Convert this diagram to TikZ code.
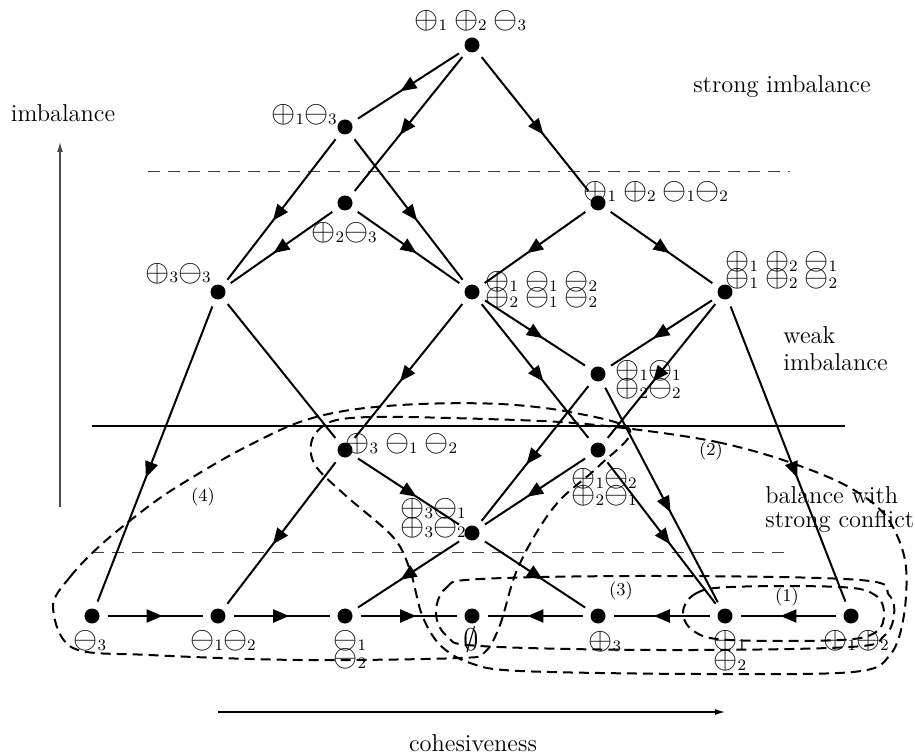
\RequirePackage{fix-cm}
\documentclass[tikz,border=0pt]{standalone}
\usetikzlibrary{arrows.meta,decorations.markings}
\newcommand\opl[1]{$\oplus$\lower1pt\hbox{\fontsize{8}{9}\selectfont #1}}
\newcommand\omi[1]{$\ominus$\lower1pt\hbox{\fontsize{8}{9}\selectfont #1}}
\newcommand\gp{\hspace{3.5pt}}
\begin{document}
\begin{tikzpicture}[x=0.5pt,y=-0.5pt,
  dot/.style={circle,fill=black,inner sep=0pt,minimum size=7.5pt,outer sep=4pt},
  sym/.style={font=\fontsize{15.5}{18}\selectfont,inner sep=0pt,anchor=base west},
  txt/.style={font=\fontsize{12.2}{14.6}\selectfont,inner sep=0pt},
  num/.style={font=\fontsize{9}{11}\selectfont,inner sep=0pt},
  edge/.style={line width=1pt,postaction={decorate},
    decoration={markings,mark=at position 0.58 with {\arrow{Triangle[length=8pt,width=6.5pt]}}}},
  plainedge/.style={line width=1pt},
  level/.style={line width=0.5pt,black!75,dash pattern=on 6pt off 4pt},
  region/.style={line width=1pt,dash pattern=on 5pt off 3pt},
  axisarrow/.style={line width=0.6pt,-{Latex[length=5pt,width=3pt]}}
]
\useasboundingbox (0,0) rectangle (915,754);

% level lines
\draw[level] (148,172) -- (790,172);
\draw[line width=0.6pt] (92,426) -- (845,426);
\draw[level] (92,552) -- (790,552);

% axes
\coordinate (ya) at (60,507); \coordinate (yb) at (60,142);
\draw[axisarrow,black!70] (ya) -- (yb);
\coordinate (xa) at (218,712); \coordinate (xb) at (725,712);
\draw[axisarrow] (xa) -- (xb);
\node[txt,anchor=base] (limb) at (63,122) {imbalance};
\node[txt,anchor=base] (lcoh) at (473,751) {cohesiveness};
\node[txt,anchor=base] (lstr) at (782,93) {strong imbalance};
\node[txt,anchor=base west] (lweak1) at (783,343) {weak};
\node[txt,anchor=base west] (lweak2) at (783,370) {imbalance};
\node[txt,anchor=base west] (lbal1) at (765,503) {balance with};
\node[txt,anchor=base west] (lbal2) at (765,527) {strong conflict};

% nodes
\node[dot] (T) at (472,45) {};
\node[dot] (A) at (345,127) {};
\node[dot] (B) at (345,203) {};
\node[dot] (C) at (598,203) {};
\node[dot] (D) at (218,292) {};
\node[dot] (E) at (472,292) {};
\node[dot] (F) at (725,292) {};
\node[dot] (G) at (598,374) {};
\node[dot] (H) at (345,450) {};
\node[dot] (I) at (598,450) {};
\node[dot] (J) at (472,533) {};
\node[dot] (K1) at (92,616) {};
\node[dot] (K2) at (218,616) {};
\node[dot] (K3) at (345,616) {};
\node[dot] (K4) at (472,616) {};
\node[dot] (K5) at (598,616) {};
\node[dot] (K6) at (725,616) {};
\node[dot] (K7) at (851,616) {};

% edges
\draw[edge] (T) -- (A);
\draw[edge] (T) -- (B);
\draw[edge] (T) -- (C);
\draw[edge] (A) -- (D);
\draw[edge] (A) -- (E);
\draw[edge] (B) -- (D);
\draw[edge] (B) -- (E);
\draw[edge] (C) -- (E);
\draw[edge] (C) -- (F);
\draw[edge] (D) -- (K1);
\draw[plainedge] (D) -- (H);
\draw[edge] (E) -- (H);
\draw[edge] (E) -- (G);
\draw[edge] (E) -- (I);
\draw[edge] (F) -- (G);
\draw[edge] (F) -- (I);
\draw[edge] (F) -- (K7);
\draw[edge] (G) -- (J);
\draw[edge] (G) -- (K6);
\draw[edge] (H) -- (J);
\draw[edge] (H) -- (K2);
\draw[edge] (I) -- (J);
\draw[edge] (I) -- (K6);
\draw[edge] (J) -- (K3);
\draw[edge] (J) -- (K5);
\draw[edge] (K1) -- (K2);
\draw[edge] (K2) -- (K3);
\draw[edge] (K3) -- (K4);
\draw[edge] (K5) -- (K4);
\draw[edge] (K6) -- (K5);
\draw[edge] (K7) -- (K6);

% dashed regions
\draw[region] plot[smooth cycle,tension=0.6] coordinates {(683,613) (695,594) (730,587) (840,587) (875,595) (884,613) (876,632) (840,640) (730,640) (695,632)};
\draw[region] plot[smooth cycle,tension=0.6] coordinates {(436,613) (446,588) (480,579) (660,576) (860,580) (889,595) (894,615) (884,636) (850,647) (660,650) (480,646) (447,636)};
\draw[region] plot[smooth cycle,tension=0.55] coordinates {(640,430) (717,442) (783,460) (845,485) (885,515) (905,560) (904,615) (890,655) (853,672) (700,674) (520,671) (470,663) (440,645) (422,615) (410,570) (393,537) (345,495) (315,465) (312,440) (330,422) (370,417) (450,418) (560,422)};
\draw[region] plot[smooth cycle,tension=0.55] coordinates {(53,607) (70,577) (103,543) (153,503) (193,477) (240,450) (297,423) (350,410) (420,404) (500,404) (570,412) (630,430) (600,465) (560,500) (535,535) (515,575) (500,625) (485,652) (460,658) (300,660) (150,655) (73,648)};
\node[num] (n1) at (787,597) {(1)};
\node[num] (n2) at (711,451) {(2)};
\node[num] (n3) at (621,591) {(3)};
\node[num] (n4) at (203,497) {(4)};

% labels
\node[sym] (lT) at (414,29) {\opl1\gp\opl2\gp\omi3};
\node[sym] (lA) at (271,123) {\opl1\omi3};
\node[sym] (lB) at (311,241) {\opl2\omi3};
\node[sym] (lC) at (583,200) {\opl1\gp\opl2\gp\omi1\omi2};
\node[sym] (lD) at (145,281) {\opl3\omi3};
\node[sym] (lE1) at (485,290) {\opl1\gp\omi1\gp\omi2};
\node[sym] (lE2) at (485,306) {\opl2\gp\omi1\gp\omi2};
\node[sym] (lF1) at (725,270) {\opl1\gp\opl2\gp\omi1};
\node[sym] (lF2) at (725,286) {\opl1\gp\opl2\gp\omi2};
\node[sym] (lG1) at (615,378) {\opl1\omi1};
\node[sym] (lG2) at (615,396) {\opl2\omi2};
\node[sym] (lH) at (345,451) {\opl3\gp\omi1\gp\omi2};
\node[sym] (lI1) at (571,486) {\opl1\omi2};
\node[sym] (lI2) at (571,503) {\opl2\omi1};
\node[sym] (lJ1) at (400,516) {\opl3\omi1};
\node[sym] (lJ2) at (400,535) {\opl3\omi2};
\node[sym] (lK1) at (73,648) {\omi3};
\node[sym] (lK2) at (190,648) {\omi1\omi2};
\node[sym] (lK3a) at (333,648) {\omi1};
\node[sym] (lK3b) at (333,666) {\omi2};
\node[sym,anchor=base] (lK4) at (471,650) {$\emptyset$};
\node[sym] (lK5) at (588,649) {\opl3};
\node[sym] (lK6a) at (713,648) {\opl1};
\node[sym] (lK6b) at (713,668) {\opl2};
\node[sym] (lK7) at (823,648) {\opl1\opl2};
\end{tikzpicture}
\end{document}
